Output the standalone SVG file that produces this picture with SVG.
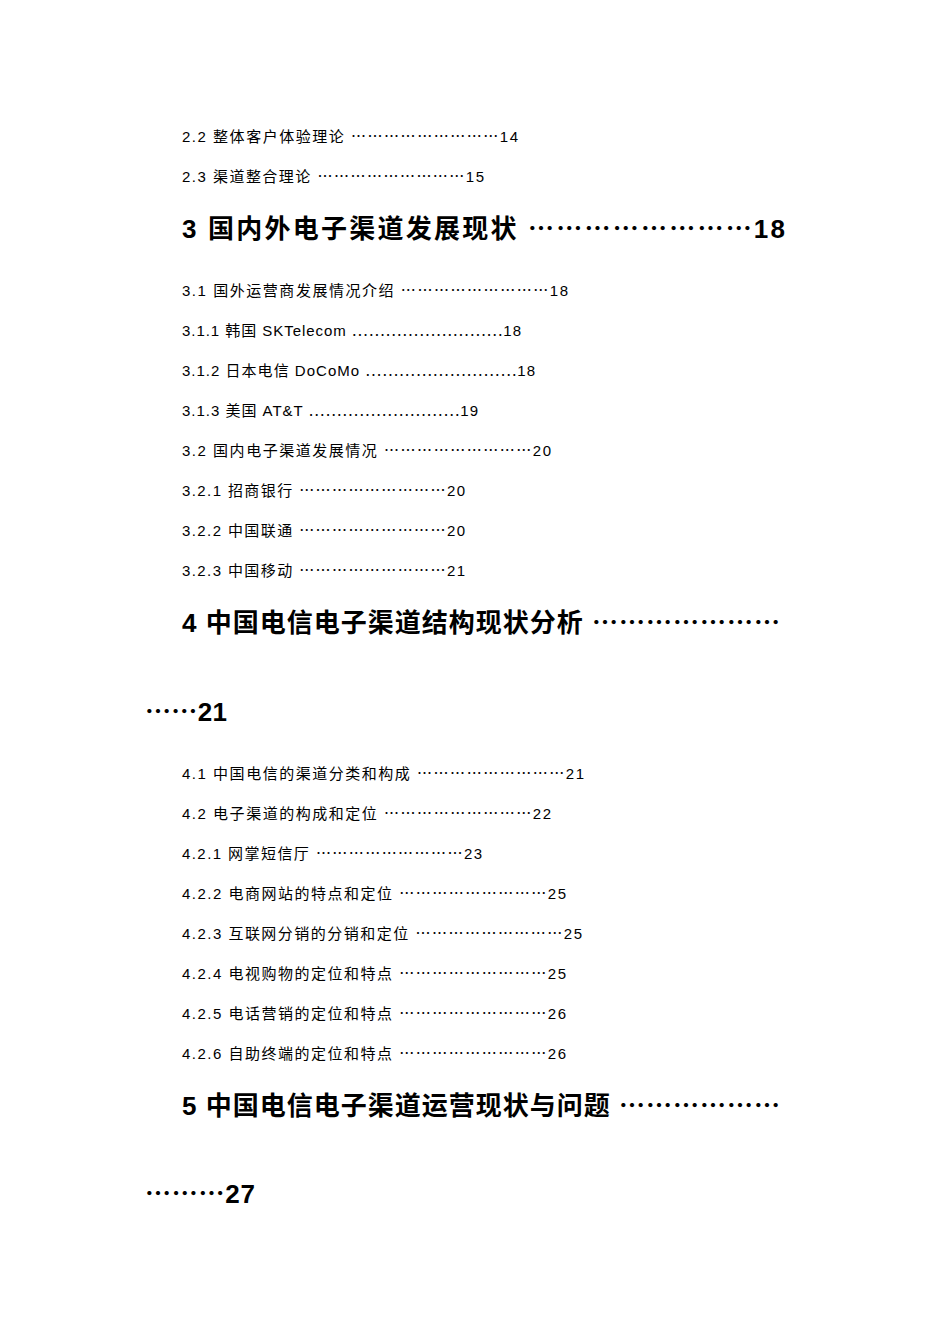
<svg xmlns="http://www.w3.org/2000/svg" width="950" height="1344" viewBox="0 0 950 1344">
<style>
.s{font-family:"Liberation Sans","Noto Sans CJK SC",sans-serif;font-size:15px;fill:#000}
.h{font-family:"Liberation Sans","Noto Sans CJK SC",sans-serif;font-size:26px;font-weight:bold;fill:#000}
</style>
<rect width="950" height="1344" fill="#fff"/>
<text class="s" x="182" y="142" textLength="336" lengthAdjust="spacing">2.2 整体客户体验理论 ⋯⋯⋯⋯⋯⋯⋯⋯⋯14</text>
<text class="s" x="182" y="182" textLength="302" lengthAdjust="spacing">2.3 渠道整合理论 ⋯⋯⋯⋯⋯⋯⋯⋯⋯15</text>
<text class="h" x="182" y="238" textLength="603" lengthAdjust="spacing">3 国内外电子渠道发展现状 ⋯⋯⋯⋯⋯⋯⋯⋯18</text>
<text class="s" x="182" y="296" textLength="386" lengthAdjust="spacing">3.1 国外运营商发展情况介绍 ⋯⋯⋯⋯⋯⋯⋯⋯⋯18</text>
<text class="s" x="182" y="336" textLength="339" lengthAdjust="spacing">3.1.1 韩国 SKTelecom ⋯⋯⋯⋯⋯⋯⋯⋯⋯18</text>
<text class="s" x="182" y="376" textLength="353" lengthAdjust="spacing">3.1.2 日本电信 DoCoMo ⋯⋯⋯⋯⋯⋯⋯⋯⋯18</text>
<text class="s" x="182" y="416" textLength="296" lengthAdjust="spacing">3.1.3 美国 AT&amp;T ⋯⋯⋯⋯⋯⋯⋯⋯⋯19</text>
<text class="s" x="182" y="456" textLength="369" lengthAdjust="spacing">3.2 国内电子渠道发展情况 ⋯⋯⋯⋯⋯⋯⋯⋯⋯20</text>
<text class="s" x="182" y="496" textLength="283" lengthAdjust="spacing">3.2.1 招商银行 ⋯⋯⋯⋯⋯⋯⋯⋯⋯20</text>
<text class="s" x="182" y="536" textLength="283" lengthAdjust="spacing">3.2.2 中国联通 ⋯⋯⋯⋯⋯⋯⋯⋯⋯20</text>
<text class="s" x="182" y="576" textLength="283" lengthAdjust="spacing">3.2.3 中国移动 ⋯⋯⋯⋯⋯⋯⋯⋯⋯21</text>
<text class="h" x="182" y="632" textLength="598" lengthAdjust="spacing">4 中国电信电子渠道结构现状分析 ⋯⋯⋯⋯⋯⋯⋯</text>
<text class="h" x="145" y="721" textLength="82" lengthAdjust="spacing">⋯⋯21</text>
<text class="s" x="182" y="779" textLength="402" lengthAdjust="spacing">4.1 中国电信的渠道分类和构成 ⋯⋯⋯⋯⋯⋯⋯⋯⋯21</text>
<text class="s" x="182" y="819" textLength="369" lengthAdjust="spacing">4.2 电子渠道的构成和定位 ⋯⋯⋯⋯⋯⋯⋯⋯⋯22</text>
<text class="s" x="182" y="859" textLength="300" lengthAdjust="spacing">4.2.1 网掌短信厅 ⋯⋯⋯⋯⋯⋯⋯⋯⋯23</text>
<text class="s" x="182" y="899" textLength="384" lengthAdjust="spacing">4.2.2 电商网站的特点和定位 ⋯⋯⋯⋯⋯⋯⋯⋯⋯25</text>
<text class="s" x="182" y="939" textLength="400" lengthAdjust="spacing">4.2.3 互联网分销的分销和定位 ⋯⋯⋯⋯⋯⋯⋯⋯⋯25</text>
<text class="s" x="182" y="979" textLength="384" lengthAdjust="spacing">4.2.4 电视购物的定位和特点 ⋯⋯⋯⋯⋯⋯⋯⋯⋯25</text>
<text class="s" x="182" y="1019" textLength="384" lengthAdjust="spacing">4.2.5 电话营销的定位和特点 ⋯⋯⋯⋯⋯⋯⋯⋯⋯26</text>
<text class="s" x="182" y="1059" textLength="384" lengthAdjust="spacing">4.2.6 自助终端的定位和特点 ⋯⋯⋯⋯⋯⋯⋯⋯⋯26</text>
<text class="h" x="182" y="1115" textLength="598" lengthAdjust="spacing">5 中国电信电子渠道运营现状与问题 ⋯⋯⋯⋯⋯⋯</text>
<text class="h" x="145" y="1203" textLength="110" lengthAdjust="spacing">⋯⋯⋯27</text>
</svg>
